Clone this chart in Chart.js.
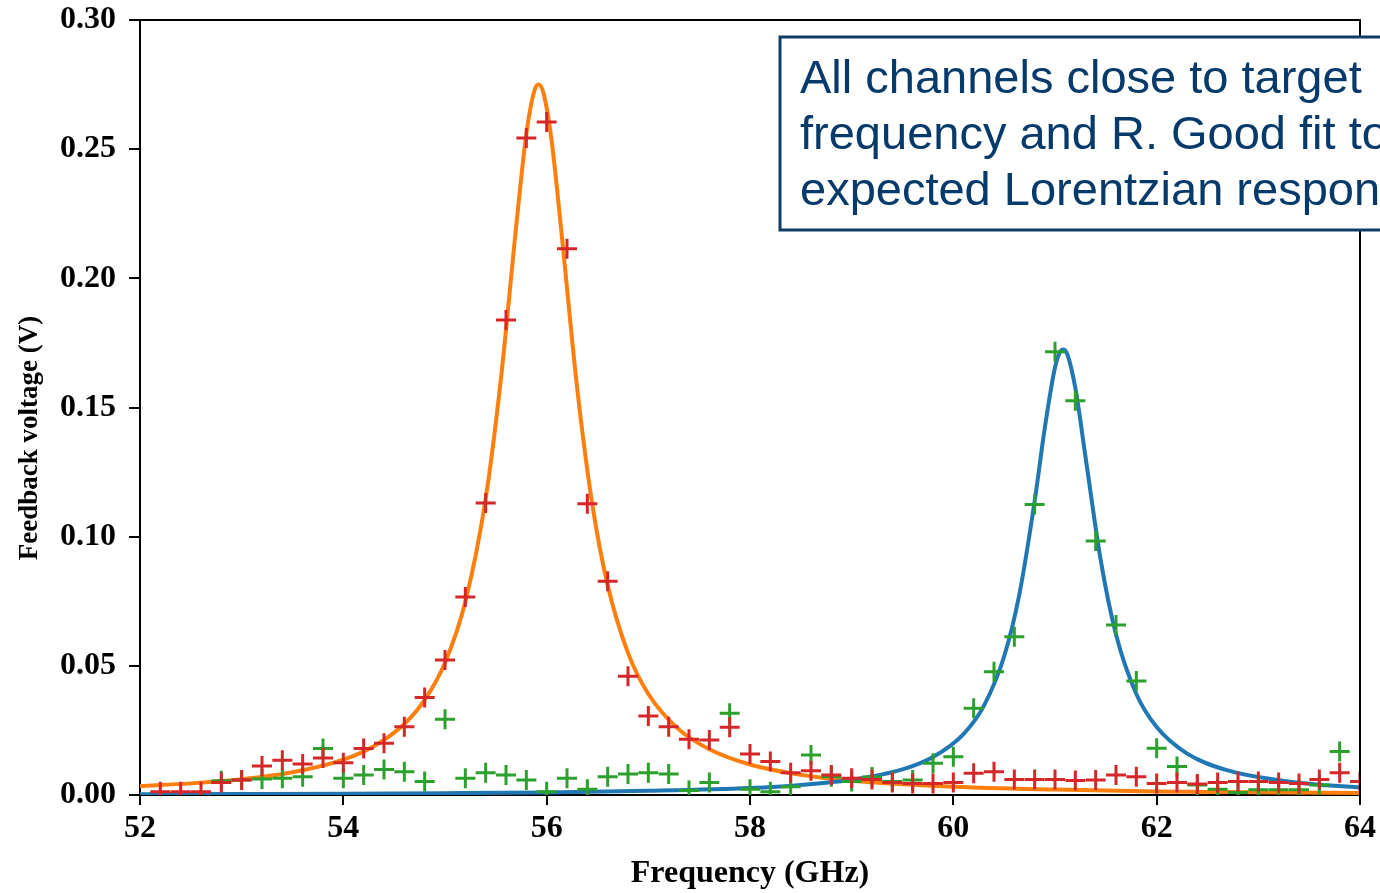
<!DOCTYPE html>
<html>
<head>
<meta charset="utf-8">
<script src="https://cdn.jsdelivr.net/npm/chart.js@4.4.1/dist/chart.umd.min.js"></script>
<style>
  html, body { margin: 0; padding: 0; background: #fff; }
  #wrap { width: 1380px; height: 893px; position: relative; }
</style>
</head>
<body>
<div id="wrap"><canvas id="fig"></canvas></div>
<script>
// measured frequencies (GHz)
const freqs = [52.0, 52.2, 52.4, 52.6, 52.8, 53.0, 53.2, 53.4, 53.6, 53.8,
  54.0, 54.2, 54.4, 54.6, 54.8, 55.0, 55.2, 55.4, 55.6, 55.8,
  56.0, 56.2, 56.4, 56.6, 56.8, 57.0, 57.2, 57.4, 57.6, 57.8,
  58.0, 58.2, 58.4, 58.6, 58.8, 59.0, 59.2, 59.4, 59.6, 59.8,
  60.0, 60.2, 60.4, 60.6, 60.8, 61.0, 61.2, 61.4, 61.6, 61.8,
  62.0, 62.2, 62.4, 62.6, 62.8, 63.0, 63.2, 63.4, 63.6, 63.8, 64.0];

// red crosses (channel near 56 GHz)
const redV = [null, 0.0013, 0.0013, 0.0013, 0.0048, 0.0058, 0.0112, 0.0135, 0.0120, 0.0143,
  0.0125, 0.0180, 0.0200, 0.0264, 0.0377, 0.0523, 0.0766, 0.1130, 0.1839, 0.2543,
  0.2605, 0.2115, 0.1127, 0.0827, 0.0460, 0.0306, 0.0264, 0.0216, 0.0213, 0.0262,
  0.0159, 0.0130, 0.0086, 0.0094, 0.0077, 0.0065, 0.0060, 0.0048, 0.0045, 0.0045,
  0.0048, 0.0084, 0.0090, 0.0060, 0.0060, 0.0060, 0.0056, 0.0058, 0.0077, 0.0071,
  0.0045, 0.0048, 0.0043, 0.0048, 0.0052, 0.0052, 0.0048, 0.0045, 0.0060, 0.0086, 0.0052];

// green crosses (channel near 61 GHz)
const greenV = [null, null, null, null, 0.0055, 0.0058, 0.0062, 0.0065, 0.0071, 0.0180,
  0.0065, 0.0077, 0.0099, 0.0090, 0.0052, 0.0293, 0.0065, 0.0086, 0.0077, 0.0058,
  0.0013, 0.0065, 0.0022, 0.0071, 0.0081, 0.0086, 0.0081, 0.0017, 0.0048, 0.0316,
  0.0022, 0.0013, 0.0032, 0.0155, 0.0071, 0.0052, 0.0070, 0.0052, 0.0058, 0.0123,
  0.0148, 0.0336, 0.0477, 0.0613, 0.1125, 0.1716, 0.1526, 0.0983, 0.0658, 0.0441,
  0.0181, 0.0110, 0.0039, 0.0022, 0.0010, 0.0020, 0.0020, 0.0020, 0.0039, 0.0168, null];

// orange fit curve
const orangeX = [52.0, 52.5, 53.0, 53.5, 54.0, 54.3, 54.6, 54.8, 55.0, 55.2, 55.4, 55.55, 55.7, 55.8,
  55.88, 55.92, 55.97, 56.05, 56.15, 56.3, 56.45, 56.6, 56.8, 57.0, 57.3, 57.6, 58.0, 58.5,
  59.0, 60.0, 61.0, 62.0, 63.0, 64.0];
const orangeY = [0.0035, 0.0045, 0.0061, 0.0088, 0.0137, 0.0189, 0.0275, 0.0368, 0.0512, 0.0748, 0.1147, 0.1611, 0.2200, 0.2560,
  0.2727, 0.2750, 0.2715, 0.2529, 0.2160, 0.1575, 0.1122, 0.0812, 0.0550, 0.0391, 0.0254, 0.0177, 0.0118, 0.0078,
  0.0055, 0.0032, 0.0021, 0.0014, 0.0011, 0.0008];

// blue fit curve
const blueX = [52.0, 53.0, 54.0, 55.0, 56.0, 57.0, 58.0, 58.5, 59.0, 59.5, 59.8, 60.1, 60.3, 60.5,
  60.65, 60.8, 60.9, 61.0, 61.05, 61.08, 61.12, 61.2, 61.3, 61.45, 61.6, 61.8, 62.0, 62.3,
  62.7, 63.2, 63.6, 64.0];
const blueY = [0.0003, 0.0004, 0.0005, 0.0007, 0.0010, 0.0016, 0.0027, 0.0039, 0.0059, 0.0099, 0.0147, 0.0236, 0.0345, 0.0537,
  0.0778, 0.1138, 0.1422, 0.1655, 0.1715, 0.1725, 0.1707, 0.1576, 0.1309, 0.0908, 0.0621, 0.0391, 0.0263, 0.0160,
  0.0095, 0.0057, 0.0040, 0.0030];

const xTicks = [52, 54, 56, 58, 60, 62, 64];
const yTicks = [0.00, 0.05, 0.10, 0.15, 0.20, 0.25, 0.30];

const noteLines = ['All channels close to target', 'frequency and R. Good fit to', 'expected Lorentzian response'];

function pairs(xs, ys) {
  return xs.map((x, i) => ({ x: x, y: ys[i] }));
}

const serifBold = '"Liberation Serif", "Times New Roman", serif';

const extras = {
  id: 'extras',
  afterDraw(chart) {
    const ctx = chart.ctx;
    const a = chart.chartArea;
    ctx.save();
    // top and right spines
    ctx.strokeStyle = '#000';
    ctx.lineWidth = 2;
    ctx.beginPath();
    ctx.moveTo(a.left, a.top);
    ctx.lineTo(a.right, a.top);
    ctx.lineTo(a.right, a.bottom);
    ctx.stroke();

    // axis titles
    ctx.fillStyle = '#000';
    ctx.textAlign = 'center';
    ctx.textBaseline = 'middle';
    ctx.font = 'bold 32px ' + serifBold;
    ctx.fillText('Frequency (GHz)', (a.left + a.right) / 2, 874);
    ctx.font = 'bold 27px ' + serifBold;
    ctx.translate(30, 438);
    ctx.rotate(-Math.PI / 2);
    ctx.fillText('Feedback voltage (V)', 0, 0);
    ctx.restore();

    // annotation box
    ctx.save();
    ctx.fillStyle = '#fff';
    ctx.fillRect(780, 37, 640, 193);
    ctx.strokeStyle = '#0d3a66';
    ctx.lineWidth = 3;
    ctx.strokeRect(780, 37, 640, 193);
    ctx.fillStyle = '#053a6b';
    ctx.font = '47px "Liberation Sans", Arial, sans-serif';
    ctx.textAlign = 'left';
    ctx.textBaseline = 'alphabetic';
    noteLines.forEach((t, i) => ctx.fillText(t, 800, 93 + i * 56));
    ctx.restore();
  }
};

new Chart(document.getElementById('fig').getContext('2d'), {
  type: 'scatter',
  data: {
    datasets: [
      {
        label: 'red',
        data: pairs(freqs, redV),
        pointStyle: 'cross',
        pointRadius: 10,
        pointBorderWidth: 3,
        borderColor: '#d62728',
        backgroundColor: '#d62728',
        showLine: false
      },
      {
        label: 'green',
        data: pairs(freqs, greenV),
        pointStyle: 'cross',
        pointRadius: 10,
        pointBorderWidth: 3,
        borderColor: '#2ca02c',
        backgroundColor: '#2ca02c',
        showLine: false
      },
      {
        label: 'blue fit',
        data: pairs(blueX, blueY),
        showLine: true,
        borderColor: '#1f77b4',
        borderWidth: 4,
        pointRadius: 0,
        cubicInterpolationMode: 'monotone'
      },
      {
        label: 'orange fit',
        data: pairs(orangeX, orangeY),
        showLine: true,
        borderColor: '#ff7f0e',
        borderWidth: 4,
        pointRadius: 0,
        cubicInterpolationMode: 'monotone'
      }
    ]
  },
  options: {
    responsive: true,
    maintainAspectRatio: false,
    animation: false,
    layout: { padding: { left: 0, right: 20, top: 20, bottom: 0 } },
    plugins: { legend: { display: false }, tooltip: { enabled: false } },
    scales: {
      x: {
        type: 'linear',
        min: 52, max: 64,
        afterBuildTicks: s => { s.ticks = xTicks.map(v => ({ value: v })); },
        afterFit: s => { s.height = 98; s.paddingLeft = 0; s.paddingRight = 0; },
        grid: { drawOnChartArea: false, drawTicks: true, tickLength: 10, color: '#000', lineWidth: 2 },
        border: { display: true, color: '#000', width: 2 },
        ticks: {
          color: '#000',
          padding: 5,
          font: { family: serifBold, weight: 'bold', size: 32 },
          callback: v => String(v)
        }
      },
      y: {
        type: 'linear',
        min: 0, max: 0.30,
        afterBuildTicks: s => { s.ticks = yTicks.map(v => ({ value: v })); },
        afterFit: s => { s.width = 140; s.paddingTop = 0; s.paddingBottom = 0; },
        grid: { drawOnChartArea: false, drawTicks: true, tickLength: 11, color: '#000', lineWidth: 2 },
        border: { display: true, color: '#000', width: 2 },
        ticks: {
          color: '#000',
          padding: 13,
          font: { family: serifBold, weight: 'bold', size: 32 },
          callback: v => v.toFixed(2)
        }
      }
    }
  },
  plugins: [extras]
});
</script>
</body>
</html>
